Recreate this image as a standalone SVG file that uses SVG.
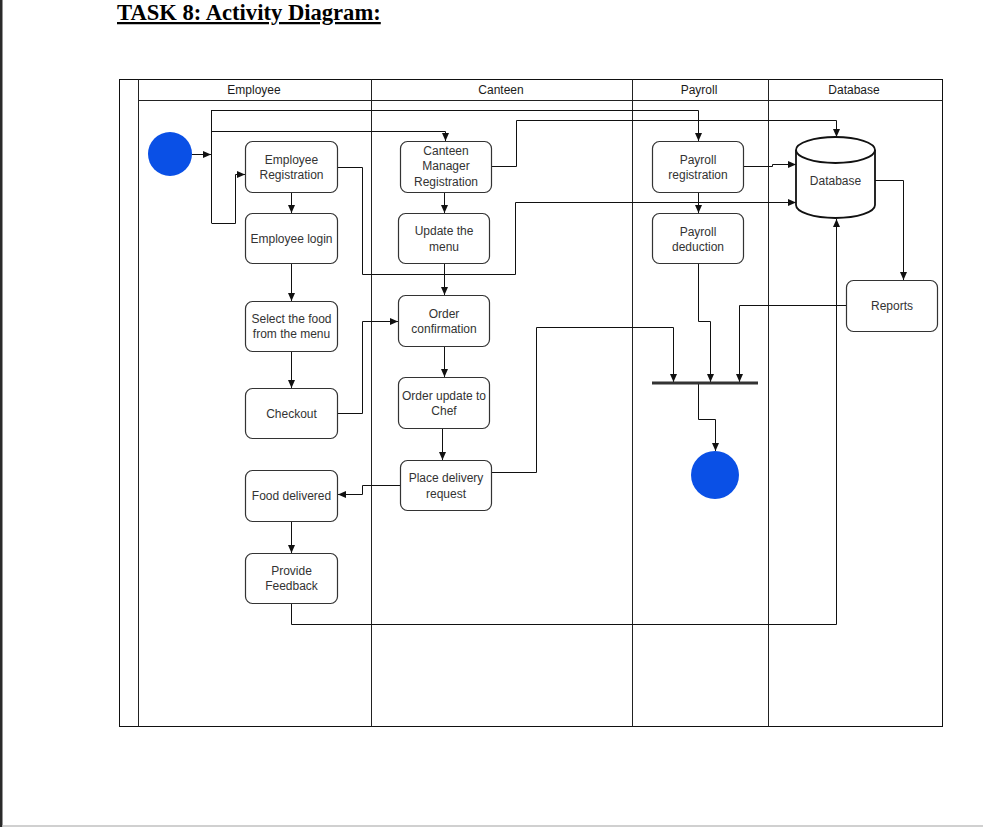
<svg xmlns="http://www.w3.org/2000/svg" width="983" height="827" viewBox="0 0 983 827">
<style>
.frame{fill:none;stroke:#111;stroke-width:1}
.lane{stroke:#222;stroke-width:1}
.hdr{font-family:"Liberation Sans",Arial,sans-serif;font-size:12px;fill:#1a1a1a;text-anchor:middle}
.box{fill:#fff;stroke:#333;stroke-width:1.2}
.lbl{font-family:"Liberation Sans",Arial,sans-serif;font-size:12px;fill:#333;text-anchor:middle}
.c{fill:none;stroke:#111;stroke-width:1}
.c2{fill:none;stroke:#111;stroke-width:1;marker-end:url(#ah)}
.dot{fill:#0a50e6}
</style>
<defs>
<marker id="ah" markerUnits="userSpaceOnUse" markerWidth="9" markerHeight="8" refX="8" refY="4" orient="auto">
<path d="M0,0.5 L8,4 L0,7.5 z" fill="#111"/>
</marker>
</defs>
<rect width="983" height="827" fill="#fff"/>
<rect x="0" y="0" width="2.5" height="827" fill="#2a2a2a"/>
<rect x="2.5" y="825" width="980.5" height="2" fill="#d0d0d0"/>

<text x="117" y="20" font-family="'Liberation Serif','Times New Roman',serif" font-size="22.6" font-weight="bold" fill="#000" text-decoration="underline">TASK 8: Activity Diagram:</text>

<g id="swimlanes">
<rect class="frame" x="119.5" y="79.5" width="823" height="647"/>
<line class="lane" x1="138.5" y1="79.5" x2="138.5" y2="726.5"/>
<line class="lane" x1="138.5" y1="100.5" x2="942.5" y2="100.5"/>
<line class="lane" x1="371.5" y1="79.5" x2="371.5" y2="726.5"/>
<line class="lane" x1="632.5" y1="79.5" x2="632.5" y2="726.5"/>
<line class="lane" x1="768.5" y1="79.5" x2="768.5" y2="726.5"/>
<text class="hdr" x="254" y="94">Employee</text>
<text class="hdr" x="501" y="94">Canteen</text>
<text class="hdr" x="699" y="94">Payroll</text>
<text class="hdr" x="854" y="94">Database</text>
</g>

<g id="connectors">
<path class="c2" d="M192,154.5 H211"/>
<path class="c" d="M211.5,110 V223" stroke-width="1.6"/>
<path class="c2" d="M211.5,110.5 H698.5 V141"/>
<path class="c2" d="M211.5,131.5 H445.5 V141"/>
<path class="c2" d="M211.5,223.5 H235.5 V174.5 H245"/>
<path class="c2" d="M291.5,193 V213"/>
<path class="c2" d="M338,167.5 H362.5 V274.5 H515.5 V202.5 H796"/>
<path class="c2" d="M492,166.5 H516.5 V120.5 H836.5 V137"/>
<path class="c2" d="M444.5,193 V213"/>
<path class="c2" d="M444.5,264 V295"/>
<path class="c2" d="M744,166.5 H772.5 V164.5 H796"/>
<path class="c2" d="M698.5,193 V213"/>
<path class="c2" d="M291.5,264 V301"/>
<path class="c2" d="M291.5,352 V388"/>
<path class="c2" d="M338,413.5 H362.5 V321.5 H398"/>
<path class="c2" d="M444.5,347 V377"/>
<path class="c2" d="M442.5,429 V460"/>
<path class="c2" d="M400,485.5 H362.5 V494.5 H338"/>
<path class="c2" d="M492,472.5 H536.5 V327.5 H673.5 V382"/>
<path class="c2" d="M698.5,264 V321.5 H710.5 V382"/>
<path class="c2" d="M846,305.5 H739.5 V382"/>
<path class="c2" d="M698.5,384 V419.5 H715.5 V451"/>
<path class="c2" d="M875,180.5 H903.5 V280"/>
<path class="c2" d="M291.5,522 V553"/>
<path class="c2" d="M291.5,604 V624.5 H836.5 V219"/>
</g>

<g id="start"><circle class="dot" cx="170" cy="154" r="22"/></g>
<g id="end"><circle class="dot" cx="715" cy="475" r="24"/></g>
<g id="join"><line x1="652" y1="383" x2="758" y2="383" stroke="#333" stroke-width="3"/></g>

<g id="employee-registration"><rect class="box" x="245.5" y="141.5" width="92" height="51" rx="7"/><text class="lbl" x="291.5" y="164">Employee</text><text class="lbl" x="291.5" y="179">Registration</text></g>
<g id="employee-login"><rect class="box" x="245.5" y="213.5" width="92" height="50" rx="7"/><text class="lbl" x="291.5" y="243">Employee login</text></g>
<g id="select-food"><rect class="box" x="245.5" y="301.5" width="92" height="50" rx="7"/><text class="lbl" x="291.5" y="323">Select the food</text><text class="lbl" x="291.5" y="338">from the menu</text></g>
<g id="checkout"><rect class="box" x="245.5" y="388.5" width="92" height="50" rx="7"/><text class="lbl" x="291.5" y="418">Checkout</text></g>
<g id="food-delivered"><rect class="box" x="245.5" y="470.5" width="92" height="51" rx="7"/><text class="lbl" x="291.5" y="500">Food delivered</text></g>
<g id="provide-feedback"><rect class="box" x="245.5" y="553.5" width="92" height="50" rx="7"/><text class="lbl" x="291.5" y="575">Provide</text><text class="lbl" x="291.5" y="590">Feedback</text></g>

<g id="canteen-manager-registration"><rect class="box" x="400.5" y="141.5" width="91" height="51" rx="7"/><text class="lbl" x="446" y="155">Canteen</text><text class="lbl" x="446" y="170">Manager</text><text class="lbl" x="446" y="186">Registration</text></g>
<g id="update-menu"><rect class="box" x="398.5" y="213.5" width="91" height="50" rx="7"/><text class="lbl" x="444" y="235">Update the</text><text class="lbl" x="444" y="251">menu</text></g>
<g id="order-confirmation"><rect class="box" x="398.5" y="295.5" width="91" height="51" rx="7"/><text class="lbl" x="444" y="318">Order</text><text class="lbl" x="444" y="333">confirmation</text></g>
<g id="order-update-chef"><rect class="box" x="398.5" y="377.5" width="91" height="51" rx="7"/><text class="lbl" x="444" y="400">Order update to</text><text class="lbl" x="444" y="415">Chef</text></g>
<g id="place-delivery"><rect class="box" x="400.5" y="460.5" width="91" height="50" rx="7"/><text class="lbl" x="446" y="482">Place delivery</text><text class="lbl" x="446" y="498">request</text></g>

<g id="payroll-registration"><rect class="box" x="652.5" y="141.5" width="91" height="51" rx="7"/><text class="lbl" x="698" y="164">Payroll</text><text class="lbl" x="698" y="179">registration</text></g>
<g id="payroll-deduction"><rect class="box" x="652.5" y="213.5" width="91" height="50" rx="7"/><text class="lbl" x="698" y="236">Payroll</text><text class="lbl" x="698" y="251">deduction</text></g>

<g id="database"><path d="M796,150 V205 A39.5,13 0 0 0 875,205 V150 A39.5,13 0 0 0 796,150 Z" fill="#fff" stroke="#111" stroke-width="1.8"/><path d="M796,150 A39.5,13 0 0 0 875,150" fill="none" stroke="#111" stroke-width="1.8"/><text class="lbl" x="835.5" y="185">Database</text></g>
<g id="reports"><rect class="box" x="846.5" y="280.5" width="91" height="51" rx="7"/><text class="lbl" x="892" y="310">Reports</text></g>
</svg>
